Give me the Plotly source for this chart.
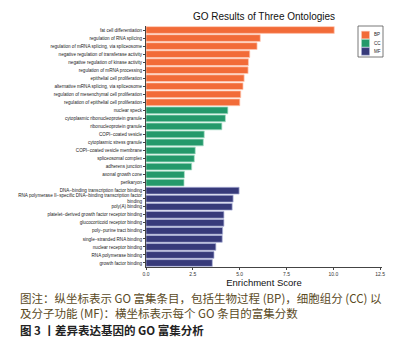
import plotly.graph_objects as go

bp_terms = [
    "fat cell differentiation",
    "regulation of RNA splicing",
    "regulation of mRNA splicing, via spliceosome",
    "negative regulation of transferase activity",
    "negative regulation of kinase activity",
    "regulation of mRNA processing",
    "epithelial cell proliferation",
    "alternative mRNA splicing, via spliceosome",
    "regulation of mesenchymal cell proliferation",
    "regulation of epithelial cell proliferation",
]
bp_scores = [10.05, 6.10, 5.93, 5.54, 5.47, 5.45, 5.24, 5.18, 5.06, 5.01]

cc_terms = [
    "nuclear speck",
    "cytoplasmic ribonucleoprotein granule",
    "ribonucleoprotein granule",
    "COPI−coated vesicle",
    "cytoplasmic stress granule",
    "COPI−coated vesicle membrane",
    "spliceosomal complex",
    "adherens junction",
    "axonal growth cone",
    "perikaryon",
]
cc_scores = [4.37, 4.24, 4.05, 3.11, 3.06, 2.63, 2.58, 2.44, 2.05, 2.03]

mf_terms = [
    "DNA−binding transcription factor binding",
    "RNA polymerase II−specific DNA−binding transcription factor<br>binding",
    "poly(A) binding",
    "platelet−derived growth factor receptor binding",
    "glucocorticoid receptor binding",
    "poly−purine tract binding",
    "single−stranded RNA binding",
    "nuclear receptor binding",
    "RNA polymerase binding",
    "growth factor binding",
]
mf_scores = [4.97, 4.65, 4.60, 4.16, 4.16, 4.09, 4.07, 3.73, 3.63, 3.54]

x_ticks = [0, 2.5, 5, 7.5, 10, 12.5]
x_tick_labels = ["0.0", "2.5", "5.0", "7.5", "10.0", "12.5"]

title = "GO Results of Three Ontologies"
x_title = "Enrichment Score"
caption_lines = [
    "图注：纵坐标表示 GO 富集条目，包括生物过程 (BP)，细胞组分 (CC) 以",
    "及分子功能 (MF)：横坐标表示每个 GO 条目的富集分数",
    "<b>图 3 丨差异表达基因的 GO 富集分析</b>",
]

groups = [
    ("BP", bp_terms, bp_scores, "#F26B38", "rgba(255,200,180,0.9)"),
    ("CC", cc_terms, cc_scores, "#24996B", "rgba(170,225,200,0.9)"),
    ("MF", mf_terms, mf_scores, "#373A7A", "rgba(170,175,215,0.9)"),
]
all_terms = bp_terms + cc_terms + mf_terms

W, H = 419, 343
ML, MR, MT, MB = 146, 37, 26, 76
PW, PH = W - ML - MR, H - MT - MB


def px_x(x):
    return (x - ML) / PW


def px_y(y):
    return (H - MB - y) / PH


fig = go.Figure()
for name, terms, scores, color, edge in groups:
    fig.add_trace(go.Bar(
        x=scores, y=terms, orientation="h", name=name, showlegend=False,
        marker=dict(color=color, line=dict(color=edge, width=0.8)),
    ))

fig.update_layout(
    width=W, height=H,
    margin=dict(l=ML, r=MR, t=MT, b=MB),
    paper_bgcolor="white", plot_bgcolor="white",
    bargap=0.16,
    font=dict(family="Liberation Sans, Arial, sans-serif", color="#222"),
    title=dict(text=title, x=0.5, xref="paper", xanchor="center",
               y=1 - 16.5 / H, yanchor="middle",
               font=dict(size=10, color="#111")),
    showlegend=False,
)
fig.update_yaxes(
    categoryorder="array", categoryarray=all_terms, autorange="reversed",
    showline=True, linecolor="#444", linewidth=1,
    ticks="outside", ticklen=2, tickcolor="#444", tickwidth=0.8,
    tickfont=dict(size=4.6, color="#222"), showgrid=False,
)
fig.update_xaxes(
    range=[0, 12.6], tickvals=x_ticks, ticktext=x_tick_labels,
    showline=True, linecolor="#444", linewidth=1,
    ticks="outside", ticklen=2, tickcolor="#444", tickwidth=0.8,
    tickfont=dict(size=5, color="#333"), showgrid=False, zeroline=False,
    title=dict(text=x_title, font=dict(size=9.5, color="#111"), standoff=2),
)

# compact legend (top-right, inside plot)
fig.add_shape(type="rect", xref="paper", yref="paper",
              x0=px_x(358), x1=px_x(383), y0=px_y(57), y1=px_y(26),
              line=dict(color="#555", width=0.8), fillcolor="white", layer="above")
for i, (name, terms, scores, color, edge) in enumerate(groups):
    cy = 35 + 8.2 * i
    fig.add_shape(type="rect", xref="paper", yref="paper",
                  x0=px_x(361.5), x1=px_x(369.5), y0=px_y(cy + 3.8), y1=px_y(cy - 3.8),
                  line=dict(color=edge, width=0.6), fillcolor=color, layer="above")
    fig.add_annotation(text=name, xref="paper", yref="paper",
                       x=px_x(372), xanchor="left", y=px_y(cy), yanchor="middle",
                       showarrow=False, font=dict(size=4.5, color="#222"))

for i, line in enumerate(caption_lines):
    col = "#222" if i == 2 else "#5A4A1E"
    fig.add_annotation(
        text=line, xref="paper", yref="paper",
        x=px_x(18), xanchor="left",
        y=px_y([298, 313, 329.5][i]), yanchor="middle",
        showarrow=False,
        font=dict(size=11.5, color=col, family="Noto Sans CJK SC"),
    )

fig.write_html("out.html", config={"displayModeBar": False},
               post_script="document.body.style.margin='0';")
